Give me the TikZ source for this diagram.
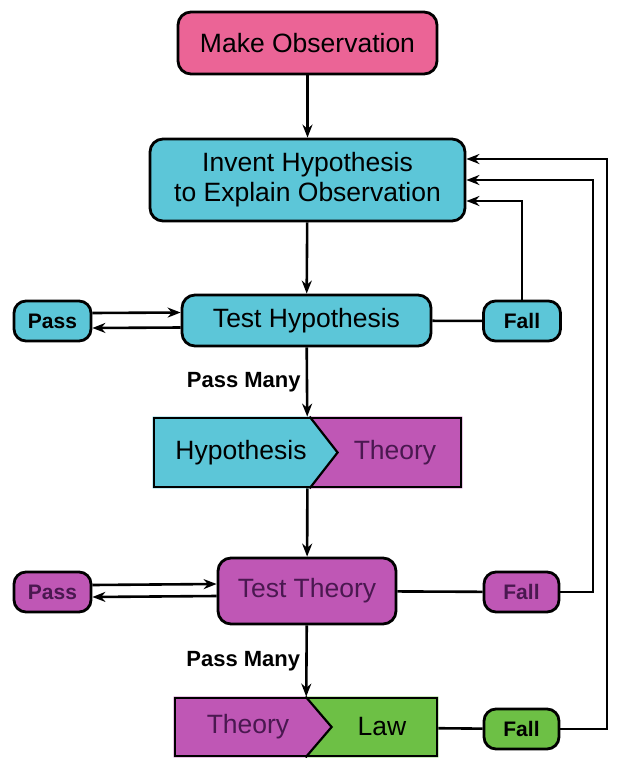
\documentclass[tikz,border=0pt]{standalone}
\usepackage{fontspec}
\setmainfont{Liberation Sans}
\usetikzlibrary{arrows.meta,calc,positioning,backgrounds}
\definecolor{ObsPink}{HTML}{EB6496}
\definecolor{HypCyan}{HTML}{5CC6D8}
\definecolor{TheoMagenta}{HTML}{BF57B5}
\definecolor{LawGreen}{HTML}{6DC045}
\definecolor{TheoInk}{HTML}{4A1850}
\tikzset{
  stepbox/.style={draw,line width=2.8pt,rounded corners=13pt,align=center,inner sep=0pt,
    font=\fontsize{26.5}{30}\selectfont},
  smallbox/.style={draw,line width=2.8pt,rounded corners=12pt,minimum width=77pt,minimum height=40pt,
    inner sep=0pt,font=\bfseries\fontsize{21}{24}\selectfont},
  splitbox/.style={draw,line width=2.8pt,inner sep=0pt},
  link/.style={line width=2.6pt,-{Stealth[length=13pt,width=10pt]}},
  plain/.style={line width=2.6pt},
  manylabel/.style={left=3pt,inner sep=2pt,font=\bfseries\fontsize{22}{24}\selectfont}
}
\begin{document}
\begin{tikzpicture}[x=1pt,y=-1pt]
        \useasboundingbox (0,0) rectangle (617,758);
        % boxes
        \node[stepbox,fill=ObsPink,minimum width=259pt,minimum height=62pt] (observe) at (307.5,43) {Make Observation};
        \node[stepbox,fill=HypCyan,minimum width=315pt,minimum height=82pt] (invent) at (307.5,180) {Invent Hypothesis\\to Explain Observation};
        \node[stepbox,fill=HypCyan,minimum width=249pt,minimum height=51pt] (testH) at (306.5,320.5) {Test Hypothesis};
        \node[smallbox,fill=HypCyan] (passH) at (52.5,321) {Pass};
        \node[smallbox,fill=HypCyan] (failH) at (522,321) {Fall};
        \node[splitbox,minimum width=307pt,minimum height=69pt] (hypTh) at (307.5,452.5) {};
        \node[stepbox,fill=TheoMagenta,text=TheoInk,minimum width=178pt,minimum height=66pt] (testT) at (307,591) {Test Theory};
        \node[smallbox,fill=TheoMagenta,text=TheoInk] (passT) at (52.5,592) {Pass};
        \node[smallbox,fill=TheoMagenta,text=TheoInk,minimum width=75pt] (failT) at (521.5,592) {Fall};
        \node[splitbox,minimum width=262pt,minimum height=58pt] (lawTh) at (306,727) {};
        \node[smallbox,fill=LawGreen,minimum width=75pt] (failL) at (521.5,729) {Fall};

        % split boxes
        \begin{scope}[on background layer]
            \fill[HypCyan] (hypTh.north west) -- ($(hypTh.north west)+(157,0)$) -- ($(hypTh.west)+(185,0)$)
                -- ($(hypTh.south west)+(157,0)$) -- (hypTh.south west) -- cycle;
            \fill[TheoMagenta] (hypTh.north east) -- ($(hypTh.north west)+(157,0)$) -- ($(hypTh.west)+(185,0)$)
                -- ($(hypTh.south west)+(157,0)$) -- (hypTh.south east) -- cycle;
            \fill[TheoMagenta] (lawTh.north west) -- ($(lawTh.north west)+(132,0)$) -- ($(lawTh.west)+(158,0)$)
                -- ($(lawTh.south west)+(132,0)$) -- (lawTh.south west) -- cycle;
            \fill[LawGreen] (lawTh.north east) -- ($(lawTh.north west)+(132,0)$) -- ($(lawTh.west)+(158,0)$)
                -- ($(lawTh.south west)+(132,0)$) -- (lawTh.south east) -- cycle;
        \end{scope}
        \draw[line width=2.2pt] ($(hypTh.north west)+(157,0)$) -- ($(hypTh.west)+(185,0)$) -- ($(hypTh.south west)+(157,0)$);
        \draw[line width=2.2pt] ($(lawTh.north west)+(132,0)$) -- ($(lawTh.west)+(158,0)$) -- ($(lawTh.south west)+(132,0)$);
        \node[font=\fontsize{26.5}{30}\selectfont] (hypWord) at (241,452.5) {Hypothesis};
        \node[font=\fontsize{26.5}{30}\selectfont,text=TheoInk] (theoWord) at (395,452.5) {Theory};
        \node[font=\fontsize{26.5}{30}\selectfont,text=TheoInk] (theoWordL) at (248,727) {Theory};
        \node[font=\fontsize{26.5}{30}\selectfont] (lawWord) at (382,727) {Law};

        % main line
        \draw[link] (observe) -- (invent);
        \draw[link] (invent) -- (testH);
        \draw[link] (testH) -- node[manylabel] {Pass Many} (hypTh);
        \draw[link] (hypTh) -- (testT);
        \draw[link] (testT) -- node[manylabel] {Pass Many} (lawTh);

        % pass loops
        \draw[link] ([yshift=8pt]passH.east) -- ([yshift=8pt]testH.west);
        \draw[link] ([yshift=-7pt]testH.west) -- ([yshift=-7pt]passH.east);
        \draw[link] ([yshift=7pt]passT.east) -- ([yshift=7pt]testT.west);
        \draw[link] ([yshift=-5pt]testT.west) -- ([yshift=-5pt]passT.east);

        % fail loops
        \coordinate (bendT) at (593,592);
        \coordinate (bendL) at (607,729);
        \draw[plain] (testH) -- (failH);
        \draw[plain] (testT) -- (failT);
        \draw[plain] (lawTh) -- (failL);
        \draw[link] (failH.north) |- ([yshift=-21pt]invent.east);
        \draw[link] (failT.east) -- (bendT) |- (invent.east);
        \draw[link] (failL.east) -- (bendL) |- ([yshift=21pt]invent.east);
\end{tikzpicture}
\end{document}
